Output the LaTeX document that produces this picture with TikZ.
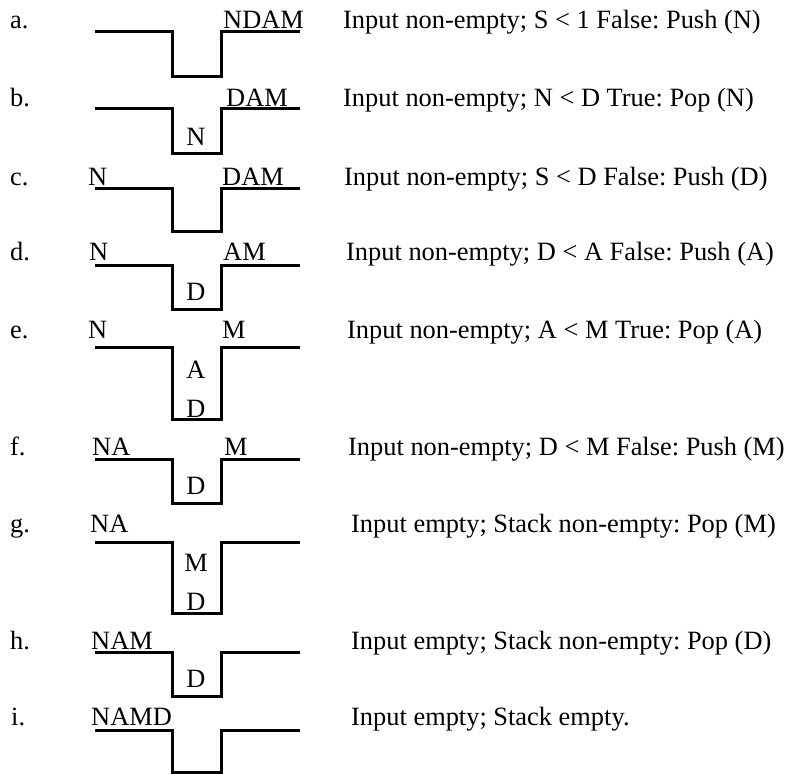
\documentclass[tikz,border=0pt]{standalone}
\usepackage{fontspec}
\setmainfont{Liberation Serif}
\frenchspacing

\begin{document}
\begin{tikzpicture}[x=1bp, y=-1bp,
    every node/.style={inner sep=0pt, font=\fontsize{26.4bp}{30bp}\selectfont},
    well/.style={line width=3bp, line join=miter},
    txt/.style={anchor=base west},
    slot/.style={anchor=base}]
    \useasboundingbox (0,0) rectangle (788,774);

    % the stack wells, one per step
    \foreach \ly/\by in {32/76, 108/153, 188/231, 265/309, 347/419,
                         459/503, 542/613, 652/696, 730/772}
        \draw[well] (95,\ly) -- (172,\ly) -- (172,\by) -- (221,\by)
            -- (221,\ly) -- (300,\ly);

    % a
    \node[txt] (tagA) at (10,29) {a.};
    \node[txt] (rightA) at (223,29) {NDAM};
    \node[txt] (descA) at (343,29) {Input non-empty; S < 1 False: Push (N)};

    % b
    \node[txt] (tagB) at (10,106) {b.};
    \node[txt] (rightB) at (226,106) {DAM};
    \node[slot] (stackB1) at (196,145) {N};
    \node[txt] (descB) at (343,106) {Input non-empty; N < D True: Pop (N)};

    % c
    \node[txt] (tagC) at (10,185) {c.};
    \node[txt] (leftC) at (88,185) {N};
    \node[txt] (rightC) at (222,185) {DAM};
    \node[txt] (descC) at (344,185) {Input non-empty; S < D False: Push (D)};

    % d
    \node[txt] (tagD) at (10,260) {d.};
    \node[txt] (leftD) at (89,260) {N};
    \node[txt] (rightD) at (223,260) {AM};
    \node[slot] (stackD1) at (196,300) {D};
    \node[txt] (descD) at (346,260) {Input non-empty; D < A False: Push (A)};

    % e
    \node[txt] (tagE) at (10,338) {e.};
    \node[txt] (leftE) at (88,338) {N};
    \node[txt] (rightE) at (222,338) {M};
    \node[slot] (stackE2) at (196,378) {A};
    \node[slot] (stackE1) at (196,417) {D};
    \node[txt] (descE) at (347,338) {Input non-empty; A < M True: Pop (A)};

    % f
    \node[txt] (tagF) at (10,455) {f.};
    \node[txt] (leftF) at (92,455) {NA};
    \node[txt] (rightF) at (224,455) {M};
    \node[slot] (stackF1) at (196,494) {D};
    \node[txt] (descF) at (348,455) {Input non-empty; D < M False: Push (M)};

    % g
    \node[txt] (tagG) at (10,532) {g.};
    \node[txt] (leftG) at (90,532) {NA};
    \node[slot] (stackG2) at (196,571) {M};
    \node[slot] (stackG1) at (196,610) {D};
    \node[txt] (descG) at (351,532) {Input empty; Stack non-empty: Pop (M)};

    % h
    \node[txt] (tagH) at (10,649) {h.};
    \node[txt] (leftH) at (91,649) {NAM};
    \node[slot] (stackH1) at (196,687) {D};
    \node[txt] (descH) at (351,649) {Input empty; Stack non-empty: Pop (D)};

    % i
    \node[txt] (tagI) at (11,725) {i.};
    \node[txt] (leftI) at (91,725) {NAMD};
    \node[txt] (descI) at (351,725) {Input empty; Stack empty.};
\end{tikzpicture}
\end{document}
